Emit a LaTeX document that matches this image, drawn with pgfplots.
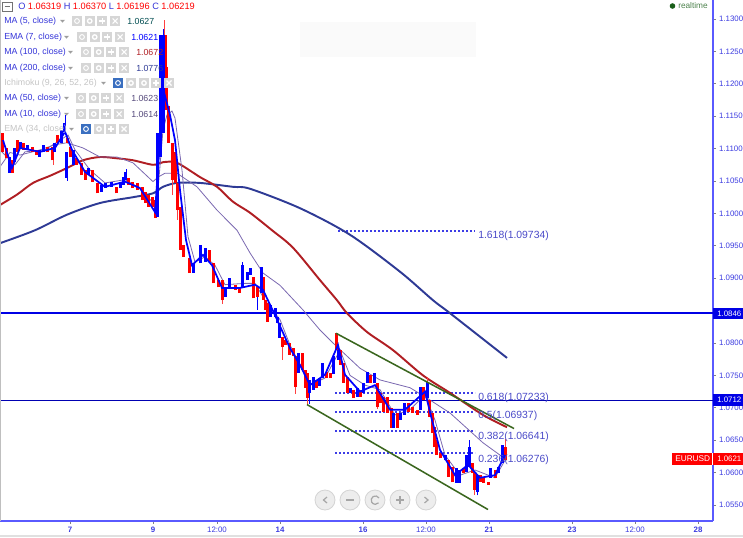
\documentclass[border=0pt]{standalone}
\usepackage{fontspec}
\setmainfont{Liberation Sans}
\usepackage{pgfplots}
\usepackage{pgfplotstable}
\pgfplotsset{compat=1.18}
\definecolor{spine}{HTML}{5A5AFF}
\definecolor{tick}{HTML}{3B3BE0}
\definecolor{cblue}{HTML}{0000FF}
\definecolor{cred}{HTML}{FF0000}
\definecolor{ma100}{HTML}{B01E23}
\definecolor{ma200}{HTML}{2E3A95}
\definecolor{mapur}{HTML}{7A68B0}
\definecolor{fib}{HTML}{3C3CE6}
\definecolor{fibt}{HTML}{4A4AC8}
\definecolor{tline}{HTML}{3A661E}
\definecolor{leg}{HTML}{3434D8}
\definecolor{igray}{HTML}{D6D6D6}
\definecolor{hid}{HTML}{C4C4C4}
\definecolor{eyeb}{HTML}{3A6FC0}
\pgfplotstableread{
x lo hi
3 1.1095 1.1124
7 1.1086 1.1101
13 1.1062 1.1082
18 1.1095 1.1113
24 1.1098 1.1109
33 1.1094 1.1103
37 1.1090 1.1098
48 1.1094 1.1103
53 1.1082 1.1103
58 1.1109 1.1121
68 1.1109 1.1116
71 1.1087 1.1103
77 1.1075 1.1085
82 1.1059 1.1078
86 1.1052 1.1067
93 1.1049 1.1067
98 1.1031 1.1047
117 1.1031 1.1041
129 1.1044 1.1055
133 1.1039 1.1049
138 1.1036 1.1047
142 1.1021 1.1041
145 1.1016 1.1033
148 1.1010 1.1029
152 1.1010 1.1025
155 1.0993 1.1021
165 1.1221 1.1275
166.5 1.1160 1.1226
168.5 1.1109 1.1165
172 1.1052 1.1109
175 1.1047 1.1094
177.5 1.1005 1.1047
180 1.0944 1.1010
183 1.0933 1.0951
189 1.0908 1.0931
209 1.0925 1.0944
213 1.0892 1.0923
218 1.0886 1.0897
222 1.0866 1.0897
235 1.0882 1.0890
239 1.0877 1.0886
253 1.0869 1.0902
257 1.0871 1.0886
263 1.0866 1.0902
265 1.0851 1.0866
267 1.0833 1.0862
282 1.0794 1.0809
285 1.0797 1.0805
289 1.0782 1.0800
293 1.0780 1.0792
295 1.0732 1.0780
302 1.0758 1.0785
305 1.0731 1.0758
307 1.0715 1.0753
316 1.0731 1.0743
326 1.0746 1.0755
330 1.0746 1.0753
336 1.0789 1.0815
340 1.0766 1.0789
343 1.0738 1.0769
347 1.0723 1.0748
353 1.0715 1.0728
360 1.0717 1.0728
370 1.0738 1.0750
377 1.0701 1.0738
380 1.0707 1.0723
383 1.0694 1.0717
387 1.0692 1.0717
391 1.0669 1.0700
397 1.0669 1.0692
408 1.0694 1.0707
412 1.0692 1.0701
417 1.0689 1.0697
423 1.0712 1.0732
429 1.0686 1.0712
432 1.0661 1.0692
434 1.0639 1.0670
436 1.0627 1.0650
440 1.0622 1.0630
448 1.0593 1.0619
452 1.0585 1.0608
463 1.0599 1.0607
472 1.0599 1.0615
474 1.0573 1.0599
480 1.0586 1.0596
483 1.0584 1.0593
488 1.0581 1.0586
495 1.0592 1.0604
505 1.0619 1.0639
}\redbars
\pgfplotstableread{
x lo hi
10 1.1062 1.1087
15 1.1079 1.1101
21 1.1101 1.1110
28 1.1098 1.1106
40 1.1087 1.1098
44 1.1094 1.1106
55 1.1094 1.1109
62 1.1109 1.1129
65 1.1126 1.1140
67 1.1055 1.1094
74 1.1075 1.1098
89 1.1059 1.1070
102 1.1033 1.1044
106 1.1039 1.1047
112 1.1041 1.1049
121 1.1039 1.1047
124 1.1044 1.1056
126 1.1052 1.1064
157 1.0994 1.1124
160 1.1087 1.1275
163 1.1124 1.1275
193 1.0908 1.0923
200 1.0923 1.0951
205 1.0925 1.0947
225 1.0871 1.0886
229 1.0885 1.0900
242 1.0886 1.0920
247 1.0897 1.0910
250 1.0905 1.0916
261 1.0877 1.0917
270 1.0840 1.0859
275 1.0840 1.0854
277 1.0831 1.0840
279 1.0808 1.0831
298 1.0754 1.0785
309 1.0723 1.0743
313 1.0728 1.0748
319 1.0734 1.0746
322 1.0746 1.0769
333 1.0752 1.0780
338.5 1.0774 1.0789
350 1.0723 1.0731
357 1.0717 1.0731
363 1.0723 1.0738
367 1.0738 1.0755
374 1.0738 1.0753
393 1.0669 1.0692
400 1.0681 1.0692
404 1.0689 1.0707
420 1.0697 1.0732
427 1.0715 1.0740
445 1.0619 1.0627
456 1.0584 1.0607
459 1.0584 1.0604
466 1.0601 1.0627
469 1.0608 1.0639
477 1.0570 1.0596
490 1.0592 1.0607
498 1.0599 1.0608
502 1.0615 1.0642
}\bluebars
\pgfplotstableread{
x lo hi
164 1.1270 1.1298
172 1.1029 1.1060
177.5 1.0990 1.1010
53 1.1075 1.1090
222 1.0860 1.0870
282 1.0774 1.0794
295 1.0722 1.0735
307 1.0706 1.0720
377 1.0698 1.0705
427 1.0738 1.0748
474 1.0566 1.0575
505 1.0639 1.0652
}\redwicks
\pgfplotstableread{
x lo hi
65 1.1135 1.1152
67 1.1050 1.1060
126 1.1060 1.1068
163 1.1270 1.1285
242 1.0915 1.0925
257 1.0851 1.0875
309 1.0706 1.0725
469 1.0635 1.0650
477 1.0565 1.0575
}\bluewicks
\newcommand{\icn}[3]{% x y glyph
  \fill[igray] (#1,#2-5) rectangle (#1+10,#2+5);
  \ifcase#3\relax
    \draw[white,line width=.7pt] (#1+5,#2) circle (2.4);
  \or
    \draw[white,line width=1pt] (#1+5,#2) circle (2.2);
  \or
    \draw[white,line width=.9pt] (#1+5,#2-3) -- (#1+5,#2+3) (#1+2,#2) -- (#1+8,#2);
  \or
    \draw[white,line width=.9pt] (#1+2.5,#2-2.5) -- (#1+7.5,#2+2.5) (#1+2.5,#2+2.5) -- (#1+7.5,#2-2.5);
  \fi}
\newcommand{\fouricn}[2]{\icn{#1}{#2}{0}\icn{#1+12.7}{#2}{1}\icn{#1+25.4}{#2}{2}\icn{#1+38.1}{#2}{3}}
\newcommand{\eyebox}[2]{\fill[eyeb] (#1,#2-5) rectangle (#1+10,#2+5);\draw[white,line width=.7pt] (#1+5,#2) circle (2.4);}
\newcommand{\drop}[2]{\fill[hid!80!black] (#1,#2-1.2) -- (#1+5,#2-1.2) -- (#1+2.5,#2+1.6) -- cycle;}
\newcommand{\lt}[4]{\node[anchor=west,inner sep=0pt,text=#1,font=\fontsize{6.6}{7}\selectfont] at (#2,#3) {#4};}
\begin{document}
\begin{tikzpicture}
\path[use as bounding box] (0,0) rectangle (557.25pt,402.75pt);
\begin{axis}[
  at={(0,12pt)},anchor=south west,
  scale only axis,width=534.75pt,height=390.75pt,
  xmin=0,xmax=713,ymin=1.05253,ymax=1.13293,
  axis y line=right,axis x line=bottom,
  axis line style={spine,line width=.8pt,-},
  tick style={tick,line width=.6pt},
  major tick length=2.2pt,tick align=outside,
  xtick={70,153,217,280,363,426,489,572,635,698},
  xticklabels={\textbf{7},\textbf{9},12:00,\textbf{14},\textbf{16},12:00,\textbf{21},\textbf{23},12:00,\textbf{28}},
  ytick={1.055,1.06,1.065,1.07,1.075,1.08,1.09,1.095,1.1,1.105,1.11,1.115,1.12,1.125,1.13},
  yticklabel style={xshift=-1.1pt,/pgf/number format/.cd,fixed,fixed zerofill,precision=4,assume math mode=true},
  ticklabel style={font=\fontsize{5.9}{7}\selectfont,text=tick},
  xticklabel style={yshift=1.2pt},
  scaled y ticks=false,
  clip=true,
]
% horizontal levels
\addplot[cblue!90!black,line width=1.7pt,forget plot] coordinates {(0,1.0846)(713,1.0846)};
\addplot[cblue!70!black,line width=.6pt,forget plot] coordinates {(0,1.0712)(713,1.0712)};
% fibonacci
\addplot[fib,line width=1.45pt,dash pattern=on 1.4pt off 1.6pt,forget plot] coordinates {(338,1.09734)(475,1.09734)};
\addplot[fib,line width=1.45pt,dash pattern=on 1.4pt off 1.6pt,forget plot] coordinates {(335,1.07233)(475,1.07233)};
\addplot[fib,line width=1.45pt,dash pattern=on 1.4pt off 1.6pt,forget plot] coordinates {(335,1.06937)(475,1.06937)};
\addplot[fib,line width=1.45pt,dash pattern=on 1.4pt off 1.6pt,forget plot] coordinates {(335,1.06641)(475,1.06641)};
\addplot[fib,line width=1.45pt,dash pattern=on 1.4pt off 1.6pt,forget plot] coordinates {(335,1.06306)(475,1.06306)};
% slow averages
\addplot[ma200,line width=1.45pt,smooth,forget plot] coordinates {(0,1.0954)(35,1.0974)(67,1.0998)(100,1.1016)(133,1.1025)(153,1.1031)(163,1.1041)(177,1.1047)(200,1.1047)(233,1.1041)(250,1.1038)(300,1.1008)(350,1.0967)(400,1.0910)(433,1.0866)(450,1.0846)(507,1.0777)};
\addplot[ma100,line width=1.45pt,smooth,forget plot] coordinates {(0,1.1013)(17,1.1029)(33,1.1047)(50,1.1058)(67,1.1070)(83,1.1082)(100,1.1087)(117,1.1085)(133,1.1082)(153,1.1075)(163,1.1079)(177,1.1078)(200,1.1056)(217,1.1041)(233,1.1018)(250,1.1001)(272,1.0974)(293,1.0947)(320,1.0897)(337,1.0866)(347,1.0846)(367,1.0817)(393,1.0789)(423,1.0750)(450,1.0723)(483,1.0689)(507,1.0670)};
\addplot[mapur,line width=.6pt,forget plot] coordinates {(0,1.1072)(10,1.1094)(20,1.1090)(40,1.1098)(55,1.1106)(67,1.1109)(83,1.1101)(100,1.1087)(117,1.1087)(133,1.1078)(153,1.1049)(158,1.1056)(165,1.1062)(177,1.1062)(197,1.1041)(217,1.1005)(237,1.0974)(250,1.0939)(263,1.0908)(280,1.0889)(303,1.0851)(320,1.0820)(333,1.0800)(360,1.0761)(380,1.0743)(410,1.0731)(427,1.0715)(450,1.0692)(483,1.0646)(500,1.0627)(507,1.0619)};
\addplot[mapur,line width=.6pt,forget plot] coordinates {(0,1.1098)(10,1.1082)(15,1.1075)(25,1.1095)(45,1.1098)(60,1.1113)(68,1.1121)(75,1.1098)(90,1.1067)(105,1.1047)(125,1.1052)(140,1.1039)(155,1.1013)(158,1.1036)(163,1.1129)(167,1.1152)(172,1.1158)(175,1.1147)(182,1.1067)(188,1.0964)(195,1.0925)(205,1.0933)(215,1.0920)(225,1.0890)(245,1.0892)(255,1.0892)(265,1.0866)(280,1.0836)(290,1.0797)(300,1.0766)(310,1.0735)(325,1.0746)(340,1.0789)(350,1.0750)(365,1.0735)(380,1.0728)(395,1.0689)(410,1.0697)(425,1.0720)(435,1.0681)(445,1.0627)(460,1.0596)(475,1.0604)(495,1.0592)(505,1.0619)};
% candles
\addplot[draw=none,forget plot,error bars/.cd,y dir=plus,y explicit,error mark=none,error bar style={cred!75!white,line width=.6pt}] table[x=x,y=lo,y error plus expr=\thisrow{hi}-\thisrow{lo}] {\redwicks};
\addplot[draw=none,forget plot,error bars/.cd,y dir=plus,y explicit,error mark=none,error bar style={cblue,line width=.6pt}] table[x=x,y=lo,y error plus expr=\thisrow{hi}-\thisrow{lo}] {\bluewicks};
\addplot[draw=none,forget plot,error bars/.cd,y dir=plus,y explicit,error mark=none,error bar style={cred,line width=2.25pt}] table[x=x,y=lo,y error plus expr=\thisrow{hi}-\thisrow{lo}] {\redbars};
\addplot[draw=none,forget plot,error bars/.cd,y dir=plus,y explicit,error mark=none,error bar style={cblue,line width=2.25pt}] table[x=x,y=lo,y error plus expr=\thisrow{hi}-\thisrow{lo}] {\bluebars};
% fast average
\addplot[cblue,line width=1.3pt,forget plot] coordinates {(3,1.1113)(12,1.1070)(20,1.1101)(40,1.1095)(55,1.1101)(65,1.1126)(72,1.1098)(85,1.1064)(105,1.1041)(125,1.1049)(140,1.1039)(155,1.1002)(158,1.1067)(161,1.1144)(164,1.1187)(170,1.1152)(175,1.1113)(180,1.1036)(186,1.0959)(192,1.0920)(203,1.0936)(212,1.0920)(222,1.0885)(240,1.0885)(255,1.0890)(263,1.0882)(275,1.0843)(290,1.0792)(300,1.0766)(310,1.0735)(325,1.0751)(338,1.0797)(345,1.0751)(360,1.0725)(375,1.0735)(390,1.0697)(405,1.0697)(425,1.0725)(432,1.0681)(440,1.0635)(455,1.0596)(468,1.0612)(480,1.0592)(495,1.0596)(505,1.0627)};
% channel
\addplot[tline,line width=1.15pt,forget plot] coordinates {(336,1.0815)(514,1.0668)};
\addplot[tline,line width=1.15pt,forget plot] coordinates {(307,1.0705)(488,1.0543)};
% labels
\node[anchor=west,inner sep=0pt,text=fibt,font=\fontsize{7.8}{8}\selectfont] at (axis cs:478,1.09655) {1.618(1.09734)};
\node[anchor=west,inner sep=0pt,text=fibt,font=\fontsize{7.8}{8}\selectfont] at (axis cs:478,1.07155) {0.618(1.07233)};
\node[anchor=west,inner sep=0pt,text=fibt,font=\fontsize{7.8}{8}\selectfont] at (axis cs:478,1.06875) {0.5(1.06937)};
\node[anchor=west,inner sep=0pt,text=fibt,font=\fontsize{7.8}{8}\selectfont] at (axis cs:478,1.06550) {0.382(1.06641)};
\node[anchor=west,inner sep=0pt,text=fibt,font=\fontsize{7.8}{8}\selectfont] at (axis cs:478,1.06195) {0.236(1.06276)};
\end{axis}
\begin{scope}[x=.75pt,y=-.75pt,shift={(0,402.75pt)}]
% frame bits
\fill[black!12] (0,535) rectangle (743,537);
\fill[black!25] (0,0) rectangle (.8,521);
\fill[black!2] (300,22) rectangle (476,57);
% price badges
\fill[cblue!90!black] (713,308) rectangle (743,319);
\node[anchor=west,inner sep=0pt,text=white,font=\fontsize{5.9}{7}\selectfont] at (717,313.5) {1.0846};
\fill[cblue!90!black] (713,394) rectangle (743,406);
\node[anchor=west,inner sep=0pt,text=white,font=\fontsize{5.9}{7}\selectfont] at (717,400) {1.0712};
\fill[cred] (672,453) rectangle (743,465);
\draw[white,line width=.4pt] (712.5,453) -- (712.5,465);
\node[anchor=west,inner sep=0pt,text=white,font=\fontsize{6.2}{7}\selectfont] at (675,459) {EURUSD};
\node[anchor=west,inner sep=0pt,text=white,font=\fontsize{5.9}{7}\selectfont] at (717,459) {1.0621};
% realtime
\fill[green!30!black!90!white] (672.5,6) circle (2.8);
\node[anchor=west,inner sep=0pt,text=green!30!black!70!white,font=\fontsize{6.2}{7}\selectfont] at (678,6) {realtime};
% header
\draw[black!55,line width=.5pt] (2.5,2.5) rectangle (12,11);
\draw[black!55,line width=.6pt] (4.5,6.7) -- (10,6.7);
\node[anchor=west,inner sep=0pt,font=\fontsize{6.9}{8}\selectfont] at (18,6.5) {\textcolor{leg}{O}~\textcolor{cred}{1.06319}~\textcolor{leg}{H}~\textcolor{cred}{1.06370}~\textcolor{leg}{L}~\textcolor{cred}{1.06196}~\textcolor{leg}{C}~\textcolor{cred}{1.06219}};
% study legend
\lt{leg}{4}{21}{MA (5, close)} \drop{60}{21} \fouricn{72}{21} \lt{black!55!blue!70!green}{127}{21.5}{1.0627}
\lt{leg}{4}{37}{EMA (7, close)} \drop{64}{37} \fouricn{77}{37} \lt{cblue}{131}{37.5}{1.0621}
\lt{leg}{4}{52}{MA (100, close)} \drop{68}{52} \fouricn{81}{52} \lt{ma100}{136}{52.5}{1.0672}
\lt{leg}{4}{68}{MA (200, close)} \drop{68}{68} \fouricn{81}{68} \lt{ma200}{136}{68.5}{1.0776}
\lt{hid}{4}{83}{Ichimoku (9, 26, 52, 26)} \drop{101}{83} \eyebox{113}{83} \icn{126}{83}{1} \icn{139}{83}{1} \icn{151}{83}{2} \icn{164}{83}{3}
\lt{leg}{4}{98}{MA (50, close)} \drop{64}{98} \fouricn{76}{98} \lt{mapur!70!black}{131}{98.5}{1.0623}
\lt{leg}{4}{114}{MA (10, close)} \drop{64}{114} \fouricn{76}{114} \lt{mapur!70!black}{131}{114.5}{1.0614}
\lt{hid}{4}{129}{EMA (34, close)} \drop{69}{129} \eyebox{81}{129} \icn{94}{129}{1} \icn{106}{129}{2} \icn{119}{129}{3}
% navigation buttons
\foreach \cx/\g in {325/0,350/1,375/2,400/3,426/4}{
  \filldraw[fill=black!7,draw=black!17,line width=.6pt] (\cx,500) circle (10);
}
\draw[black!35,line width=.9pt] (327,497) -- (323.5,500) -- (327,503);
\draw[black!35,line width=.9pt] (346,500) -- (354,500);
\draw[black!35,line width=.9pt] (379,498) arc (-30:-320:4.2);
\draw[black!35,line width=.9pt] (396,500) -- (404,500) (400,496) -- (400,504);
\draw[black!35,line width=.9pt] (424.5,497) -- (428,500) -- (424.5,503);
\end{scope}
\end{tikzpicture}
\end{document}
